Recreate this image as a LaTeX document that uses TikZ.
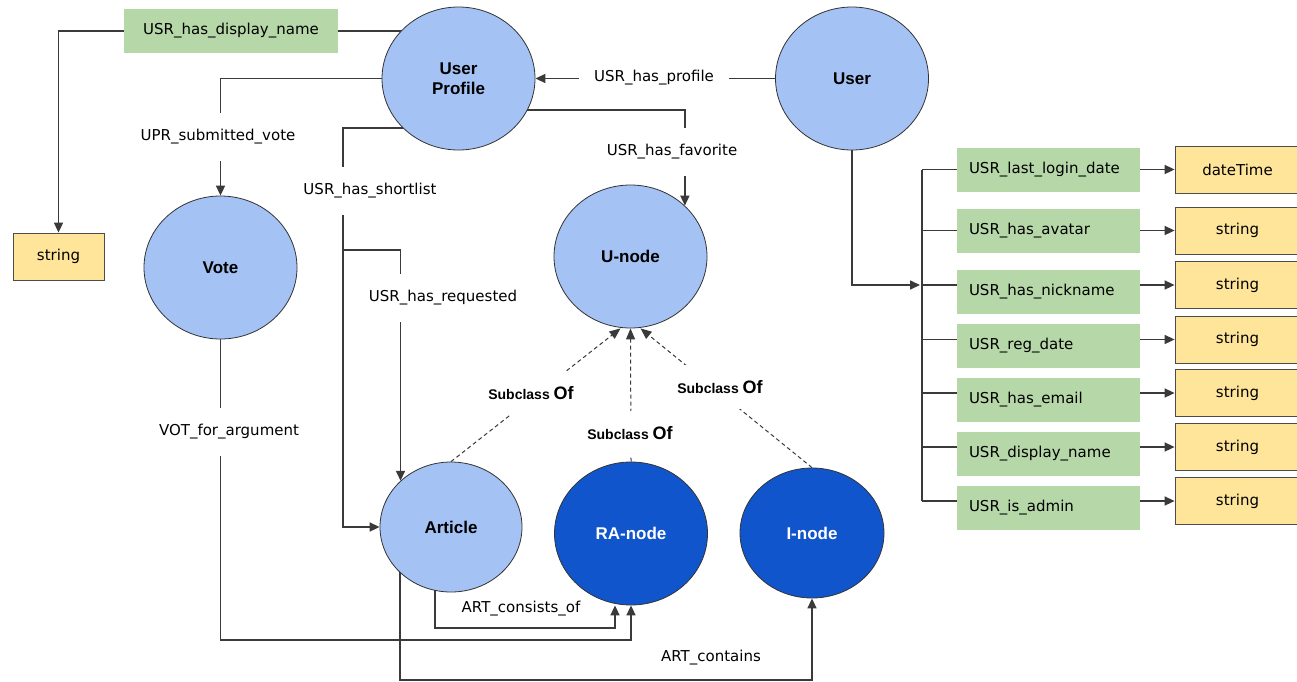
\documentclass[tikz,border=0pt]{standalone}
\usepackage{fontspec}
\setmainfont{DejaVu Sans}
\newfontfamily\entfont{Liberation Sans}
\usetikzlibrary{arrows.meta,backgrounds,shapes.geometric}
\definecolor{lblue}{HTML}{A4C2F4}
\definecolor{dblue}{HTML}{1155CC}
\definecolor{lgreen}{HTML}{B6D7A8}
\definecolor{lyellow}{HTML}{FFE599}
\definecolor{lineg}{HTML}{3A3A3A}
\begin{document}
\begin{tikzpicture}[x=1pt,y=-1pt,
  ent/.style={ellipse, draw=black!80, line width=0.8pt, fill=lblue, align=center,
    inner sep=0pt, minimum width=153pt, minimum height=143pt,
    font=\entfont\bfseries\fontsize{17}{20}\selectfont},
  dent/.style={ent, fill=dblue, text=white},
  prop/.style={fill=lgreen, minimum height=44pt, inner sep=0pt,
    font=\fontsize{15}{17}\selectfont},
  dtype/.style={draw=black!70, line width=0.8pt, fill=lyellow, minimum height=47pt,
    inner sep=0pt, font=\fontsize{15}{17}\selectfont},
  conn/.style={draw=lineg, line width=1.6pt},
  arr/.style={conn, -{Triangle[length=10pt,width=9pt]}},
  subarr/.style={draw=lineg, line width=1pt, dash pattern=on 4pt off 3pt,
    -{Triangle[length=11pt,width=9pt]}},
  lbl/.style={fill=white, inner xsep=12pt, inner ysep=17pt,
    font=\fontsize{15}{17}\selectfont},
  sublbl/.style={fill=white, inner xsep=8pt, inner ysep=15pt,
    font=\entfont\bfseries\fontsize{14}{16}\selectfont}
]
\useasboundingbox (0,0) rectangle (1297,681);

% entities
\node[ent] (UP) at (458.5,78.5) {User\\Profile};
\node[ent] (User) at (852,78.5) {User};
\node[ent] (Vote) at (220.5,267.5) {Vote};
\node[ent] (Un) at (630.5,256.5) {U-node};
\node[ent, minimum width=142pt, minimum height=130pt] (Art) at (451,527) {Article};
\node[dent] (RA) at (631,533.5) {RA-node};
\node[dent, minimum width=144pt, minimum height=130pt] (In) at (812,533) {I-node};

% left property
\node[prop, minimum width=214pt] (dn) at (231,31) {USR\_has\_display\_name};
\node[dtype, minimum width=91pt] (str) at (58.5,256.5) {string};

% right properties
\foreach \i/\gy/\yy/\gt/\yt in {
  1/169.5/169.5/USR\_last\_login\_date/dateTime,
  2/230.5/230.5/USR\_has\_avatar/string,
  3/291.5/285/USR\_has\_nickname/string,
  4/346/339.5/USR\_reg\_date/string,
  5/399.5/393/USR\_has\_email/string,
  6/453.5/447/USR\_display\_name/string,
  7/508/501/USR\_is\_admin/string}{
  \node[prop, minimum width=183pt, text width=159pt, align=left, inner xsep=12pt] (g\i) at (1048.5,\gy) {\gt};
  \node[dtype, minimum width=125pt] (t\i) at (1237.5,\yy) {\yt};
}

\coordinate (bustop) at (922,169.5);
\coordinate (busbot) at (922,501);
\coordinate (busin) at (920,285);
\coordinate (c1) at (343,128);
\coordinate (c2) at (343,250);
\coordinate (c3) at (684,110);
\coordinate (c4) at (435,628);
\coordinate (c5) at (631,640);
\coordinate (c6) at (400,680);
\coordinate (c7) at (58.5,31);

\begin{pgfonlayer}{background}
\fill[white] (0,0) rectangle (1297,681);
% display name
\draw[conn] (UP.center |- dn.east) -- (dn.east);
\draw[arr] (dn.west) -- (c7) -- (str.north);
% submitted vote
\draw[arr] (UP.center) -| (Vote.north);
% shortlist
\draw[arr] (UP.center |- c1) -- (c1) |- (Art.west);
% requested
\draw[arr] (c2) -| (Art.north west);
% profile
\draw[arr] (User.center) -- (UP.east);
% favorite
\draw[arr] (UP.center |- c3) -| (Un.north east);
% subclass
\draw[subarr] (Art.north) -- ([xshift=-10pt]Un.south);
\draw[subarr] (RA.north) -- (Un.south);
\draw[subarr] (In.north) -- ([xshift=10pt]Un.south);
% consists of
\draw[arr] (c4 |- Art.center) -- (c4) -| ([xshift=-16pt]RA.south);
% vote for argument
\draw[arr] (Vote.south) |- (c5) -- (RA.south);
% contains
\draw[arr] (c6 |- Art.center) -- (c6) -| (In.south);
% user bus
\draw[arr] (User.center) |- (busin);
\draw[conn] (bustop) -- (busbot);
\foreach \i in {1,...,7}{
  \draw[conn] (bustop |- t\i.west) -- (g\i.west |- t\i.west);
  \draw[arr] (g\i.east |- t\i.west) -- (t\i.west);
}
\end{pgfonlayer}

% labels
\node[lbl] (l1) at (218,137) {UPR\_submitted\_vote};
\node[lbl] (l2) at (370,191) {USR\_has\_shortlist};
\node[lbl] (l3) at (443,298) {USR\_has\_requested};
\node[lbl, inner xsep=15pt] (l4) at (654,78) {USR\_has\_profile};
\node[lbl] (l5) at (672,152) {USR\_has\_favorite};
\node[lbl] (l6) at (229,432) {VOT\_for\_argument};
\node[lbl, inner ysep=4pt] (l7) at (521,609) {ART\_consists\_of};
\node[lbl, inner ysep=4pt] (l8) at (711,658) {ART\_contains};
\node[sublbl] (s1) at (531,393) {Subclass {\fontsize{18}{20}\selectfont Of}};
\node[sublbl] (s2) at (630,433) {Subclass {\fontsize{18}{20}\selectfont Of}};
\node[sublbl] (s3) at (720,387) {Subclass {\fontsize{18}{20}\selectfont Of}};
\end{tikzpicture}
\end{document}
